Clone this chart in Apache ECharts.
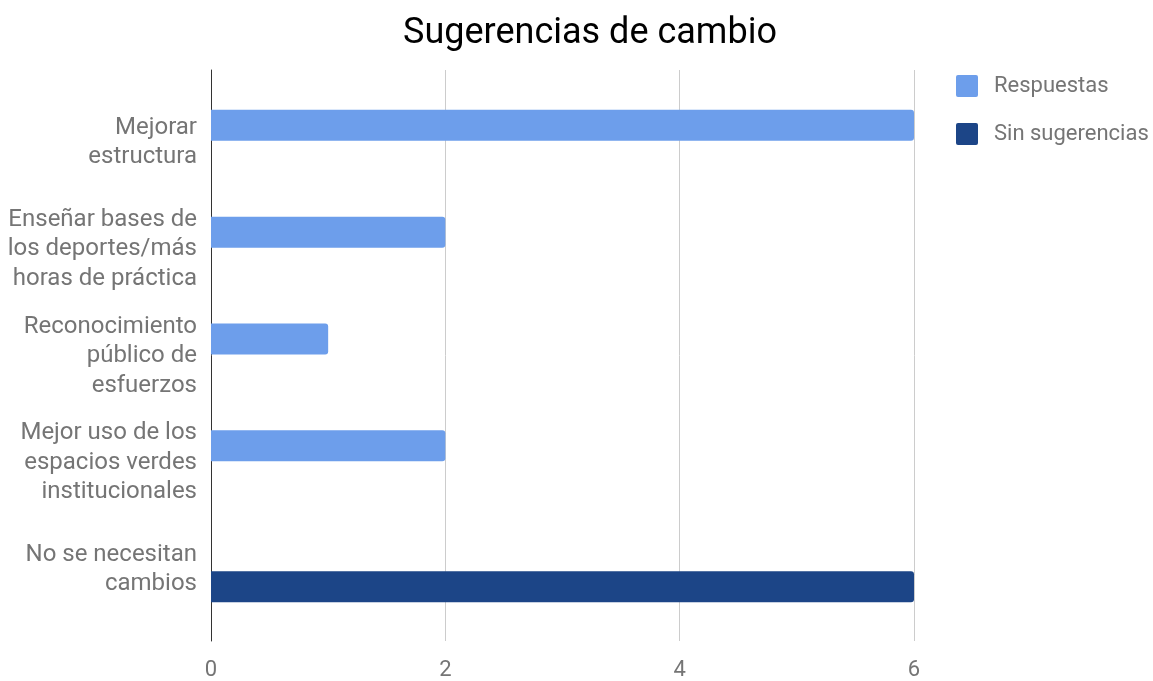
<!DOCTYPE html>
<html>
<head>
<meta charset="utf-8">
<script src="https://cdn.jsdelivr.net/npm/echarts@6/dist/echarts.min.js"></script>
<style>html,body{margin:0;padding:0;background:#fff}#c{width:1153px;height:681px}</style>
</head>
<body>
<div id="c"></div>
<script>
const categories = [
  "Mejorar\nestructura",
  "Enseñar bases de\nlos deportes/más\nhoras de práctica",
  "Reconocimiento\npúblico de\nesfuerzos",
  "Mejor uso de los\nespacios verdes\ninstitucionales",
  "No se necesitan\ncambios"
];
const respuestas = [6, 2, 1, 2, null];
const sinSugerencias = [null, null, null, null, 6];
const xTicks = [0, 2, 4, 6];

const font = "Roboto";
const chart = echarts.init(document.getElementById('c'), null, {renderer: 'canvas'});
chart.setOption({
  animation: false,
  textStyle: {fontFamily: font},
  title: {
    text: "Sugerencias de cambio",
    left: 585, top: 11, textAlign: 'center',
    textStyle: {fontFamily: font, fontSize: 36, fontWeight: 'normal', color: '#000'}
  },
  legend: {
    orient: 'vertical', left: 951, top: 70,
    itemWidth: 22, itemHeight: 22, itemGap: 26,
    icon: 'path://M2,0 H20 Q22,0 22,2 V20 Q22,22 20,22 H2 Q0,22 0,20 V2 Q0,0 2,0 Z',
    textStyle: {fontFamily: font, fontSize: 22, color: '#757575', padding: [0, 0, 0, 11]},
    data: ['Respuestas', 'Sin sugerencias']
  },
  grid: [
    {left: 211, right: 239, top: 70, bottom: 36},
    {left: 211, right: 239, top: 89, bottom: 58}
  ],
  xAxis: [
    {
      type: 'value', gridIndex: 0, min: xTicks[0], max: xTicks[xTicks.length - 1], interval: 2,
      axisLine: {show: false}, axisTick: {show: false},
      axisLabel: {fontFamily: font, fontSize: 22, color: '#757575', margin: 18},
      splitLine: {lineStyle: {color: '#cccccc', width: 1}}
    },
    {
      type: 'value', gridIndex: 1, min: xTicks[0], max: xTicks[xTicks.length - 1],
      show: false
    }
  ],
  yAxis: [
    {
      type: 'category', gridIndex: 0, data: categories, inverse: true,
      axisLine: {show: true, lineStyle: {color: '#333', width: 1}},
      axisTick: {show: false}, axisLabel: {show: false}, splitLine: {show: false}
    },
    {
      type: 'category', gridIndex: 1, data: categories, inverse: true,
      axisLine: {show: false}, axisTick: {show: false},
      axisLabel: {fontFamily: font, fontSize: 24, color: '#757575', margin: 14, lineHeight: 29.5, align: 'right', padding: [4, 0, 0, 0]}
    }
  ],
  series: [
    {
      name: 'Respuestas', type: 'bar', xAxisIndex: 1, yAxisIndex: 1,
      data: respuestas, barWidth: 31, barGap: '10%',
      itemStyle: {color: '#6d9eeb', borderRadius: [0, 3, 3, 0]}
    },
    {
      name: 'Sin sugerencias', type: 'bar', xAxisIndex: 1, yAxisIndex: 1,
      data: sinSugerencias, barWidth: 31, barGap: '10%',
      itemStyle: {color: '#1c4587', borderRadius: [0, 3, 3, 0]}
    }
  ]
});
</script>
</body>
</html>
